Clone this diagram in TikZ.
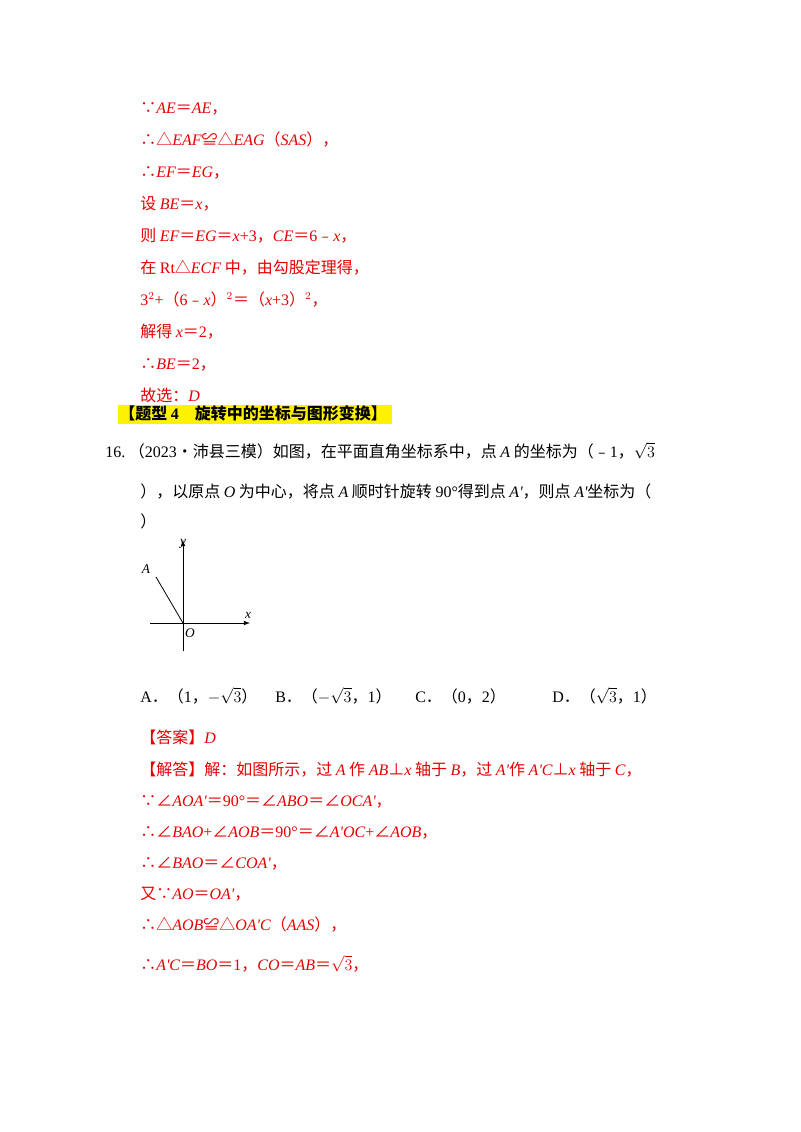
\documentclass[tikz,border=0pt]{standalone}
\usepackage{fontspec}
\setmainfont{Noto Sans CJK SC}
\newfontfamily\lat{Liberation Serif}
\newcommand{\m}[1]{{\lat\itshape #1}}
\newcommand{\n}[1]{{\lat #1}}
\definecolor{ans}{RGB}{230,0,0}
\begin{document}
\begin{tikzpicture}[x=0.75pt,y=-0.75pt,
  rl/.style={anchor=base west,text=ans,font=\fontsize{12pt}{12pt}\selectfont,inner sep=0},
  bl/.style={anchor=base west,text=black,font=\fontsize{12pt}{12pt}\selectfont,inner sep=0},
  ax/.style={line width=0.6pt,-latex}]
\useasboundingbox (0,0) rectangle (800,1132);
\fill[white] (0,0) rectangle (800,1132);
\node[rl] (l1) at (140,113) {∵\m{AE}＝\m{AE}，};
\node[rl] (l2) at (140,145) {∴△\m{EAF}≌△\m{EAG}（\m{SAS}），};
\node[rl] (l3) at (140,177) {∴\m{EF}＝\m{EG}，};
\node[rl] (l4) at (140,209) {设 \m{BE}＝\m{x}，};
\node[rl] (l5) at (140,241) {则 \m{EF}＝\m{EG}＝\m{x}\n{+3}，\m{CE}＝\n{6}﹣\m{x}，};
\node[rl] (l6) at (140,273) {在 \n{Rt}△\m{ECF} 中，由勾股定理得，};
\node[rl] (l7) at (140,305) {\n{3}$^{\n{2}}$\n{+}（\n{6}﹣\m{x}）$^{\n{2}}$＝（\m{x}\n{+3}）$^{\n{2}}$，};
\node[rl] (l8) at (140,337) {解得 \m{x}＝\n{2}，};
\node[rl] (l9) at (140,369) {∴\m{BE}＝\n{2}，};
\node[rl] (l10) at (140,401) {故选：\m{D}};
\fill[yellow] (118,405) rectangle (392,424);
\node[bl,font=\fontsize{12pt}{12pt}\selectfont\bfseries] (h) at (119,419) {【题型 \n{\bfseries 4}\quad 旋转中的坐标与图形变换】};
\node[bl] (q1) at (105,457) {\n{16.}\ （\n{2023}•沛县三模）如图，在平面直角坐标系中，点 \m{A} 的坐标为（﹣\n{1}，$\sqrt{3}$};
\node[bl] (q2) at (140,497) {），以原点 \m{O} 为中心，将点 \m{A} 顺时针旋转 \n{90°}得到点 \m{A'}，则点 \m{A'}坐标为（};
\node[bl] (q3) at (140,527) {）};
% diagram
\coordinate (O) at (183,623);
\coordinate (A) at (156,577);
\draw[ax] (183,651) -- (183,540);
\draw[ax] (150,623) -- (250,623);
\draw[line width=0.6pt] (A) -- (O);
\node[inner sep=0,font=\lat\itshape] (lA) at (146,569) {A};
\node[inner sep=0,font=\lat\itshape] (ly) at (183,544) {y};
\node[inner sep=0,font=\lat\itshape] (lx) at (248,615) {x};
\node[inner sep=0,font=\lat\itshape] (lO) at (190,633) {O};
\node[bl] (oA) at (140,702) {\n{A}．（\n{1}，$-\sqrt{3}$）};
\node[bl] (oB) at (275,702) {\n{B}．（$-\sqrt{3}$，\n{1}）};
\node[bl] (oC) at (415,702) {\n{C}．（\n{0}，\n{2}）};
\node[bl] (oD) at (552,702) {\n{D}．（$\sqrt{3}$，\n{1}）};
\node[rl] (a1) at (140,743) {【答案】\m{D}};
\node[rl] (a2) at (140,775) {【解答】解：如图所示，过 \m{A} 作 \m{AB}⊥\m{x} 轴于 \m{B}，过 \m{A'}作 \m{A'C}⊥\m{x} 轴于 \m{C}，};
\node[rl] (a3) at (140,806) {∵∠\m{AOA'}＝\n{90°}＝∠\m{ABO}＝∠\m{OCA'}，};
\node[rl] (a4) at (140,837) {∴∠\m{BAO}\n{+}∠\m{AOB}＝\n{90°}＝∠\m{A'OC}\n{+}∠\m{AOB}，};
\node[rl] (a5) at (140,868) {∴∠\m{BAO}＝∠\m{COA'}，};
\node[rl] (a6) at (140,899) {又∵\m{AO}＝\m{OA'}，};
\node[rl] (a7) at (140,930) {∴△\m{AOB}≌△\m{OA'C}（\m{AAS}），};
\node[rl] (a8) at (140,970) {∴\m{A'C}＝\m{BO}＝\n{1}，\m{CO}＝\m{AB}＝$\sqrt{3}$，};
\end{tikzpicture}
\end{document}
